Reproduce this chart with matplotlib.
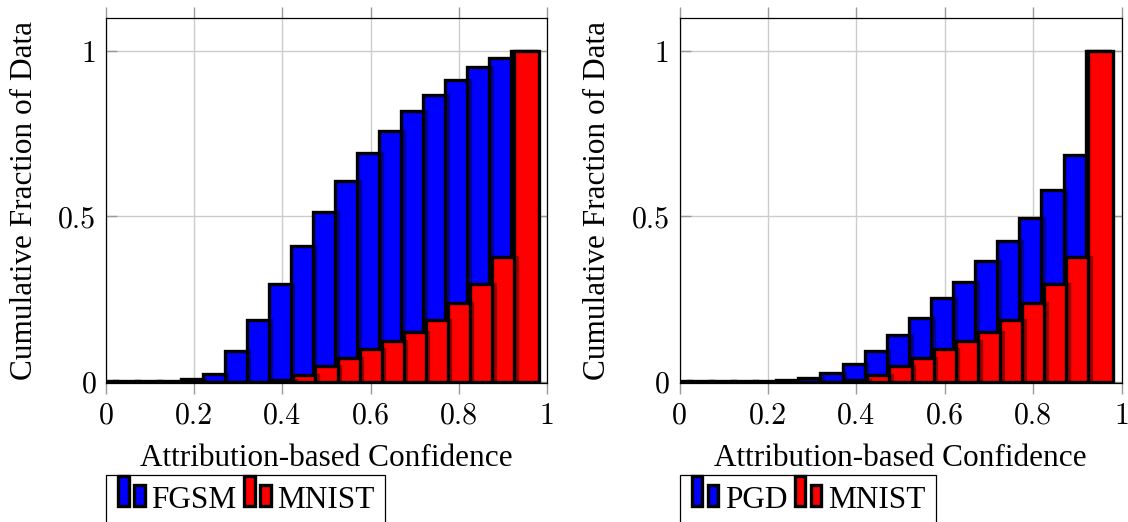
import matplotlib
matplotlib.use('Agg')
import matplotlib.pyplot as plt
import numpy as np
from matplotlib.patches import Rectangle
from matplotlib.legend_handler import HandlerBase

# bin positions (attribution-based confidence)
bins = [0.0, 0.05, 0.10, 0.15, 0.20, 0.25, 0.30, 0.35, 0.40, 0.45,
        0.50, 0.55, 0.60, 0.65, 0.70, 0.75, 0.80, 0.85, 0.90, 0.95]

# cumulative fractions
fgsm = [0.001, 0.001, 0.002, 0.003, 0.008, 0.022, 0.092, 0.187, 0.295, 0.411,
        0.512, 0.607, 0.692, 0.758, 0.818, 0.867, 0.912, 0.951, 0.979, 1.0]
pgd = [0.001, 0.001, 0.001, 0.001, 0.002, 0.004, 0.012, 0.026, 0.053, 0.094,
       0.141, 0.194, 0.252, 0.303, 0.364, 0.427, 0.496, 0.580, 0.686, 1.0]
mnist = [0.0, 0.0, 0.0, 0.0, 0.0, 0.0, 0.0, 0.0, 0.004, 0.020,
         0.048, 0.073, 0.099, 0.124, 0.151, 0.186, 0.238, 0.295, 0.376, 1.0]

xticks = [0, 0.2, 0.4, 0.6, 0.8, 1.0]
xticklabels = ['0', '0.2', '0.4', '0.6', '0.8', '1']
yticks = [0, 0.5, 1.0]
yticklabels = ['0', '0.5', '1']

BLUE = '#0000ff'
RED = '#ff0000'
LW = 2.4
WIDTH = 0.056


class TwoBars(HandlerBase):
    # pgfplots-like ybar legend image: two little bars
    def create_artists(self, legend, orig_handle, xdescent, ydescent,
                       width, height, fontsize, trans):
        fc = orig_handle.get_facecolor()
        w = width * 0.36
        r1 = Rectangle((-xdescent + 0.04 * width, -ydescent + 1.5), w, height * 1.35,
                       facecolor=fc, edgecolor='black', lw=LW, transform=trans)
        r2 = Rectangle((-xdescent + 0.58 * width, -ydescent + 1.5), w, height * 0.95,
                       facecolor=fc, edgecolor='black', lw=LW, transform=trans)
        return [r1, r2]


def bar_series(ax, x, y, color, z):
    # solid fill underneath, then bars with see-through fill so the
    # outline of the previous bar shows faintly (as in pgfplots output)
    ax.bar(x, y, width=WIDTH, color=color, linewidth=0, zorder=z)
    return ax.bar(x, y, width=WIDTH, facecolor=(*matplotlib.colors.to_rgb(color), 0.6),
                  edgecolor='black', linewidth=LW, zorder=z + 0.5)


fig = plt.figure(figsize=(11.28, 5.22), dpi=100)
ax1 = fig.add_axes([106 / 1128, 1 - 383 / 522, 441 / 1128, 365 / 522])
ax2 = fig.add_axes([679.5 / 1128, 1 - 383 / 522, 442 / 1128, 365 / 522])

label_font = {'family': 'Liberation Serif', 'size': 22.5}
tick_font = 'cmr10'

for ax, attack, name in [(ax1, fgsm, 'FGSM'), (ax2, pgd, 'PGD')]:
    x = np.array(bins)
    b = bar_series(ax, x - 0.003, attack, BLUE, 2)
    r = bar_series(ax, x + 0.003, mnist, RED, 3)

    ax.set_xlim(0, 1)
    ax.set_ylim(-0.004, 1.1)
    ax.set_xticks(xticks)
    ax.set_xticklabels(xticklabels, fontfamily=tick_font, fontsize=21.5)
    ax.set_yticks(yticks)
    ax.set_yticklabels(yticklabels, fontfamily=tick_font, fontsize=21.5)
    ax.tick_params(axis='x', direction='out', top=True, bottom=True,
                   length=8, width=1, color='#999999', pad=6)
    ax.tick_params(axis='y', direction='in', left=True, right=True,
                   length=8, width=1, color='#999999', pad=7)
    ax.grid(True, color='#cccccc', linewidth=1, zorder=0)
    ax.set_axisbelow(True)
    for s in ax.spines.values():
        s.set_color('black')
        s.set_linewidth(0.9)
        s.set_zorder(5)

    ax.set_xlabel('Attribution-based Confidence', fontdict=label_font, labelpad=10)
    ax.set_ylabel('Cumulative Fraction of Data', fontdict=label_font, labelpad=14)

    pos = ax.get_position()
    hb = Rectangle((0, 0), 1, 1, facecolor=BLUE)
    hr = Rectangle((0, 0), 1, 1, facecolor=RED)
    leg = ax.legend(handles=[hb, hr], labels=[name, 'MNIST'], ncol=2,
                    loc='upper left', bbox_to_anchor=(pos.x0, 1 - 475 / 522),
                    bbox_transform=fig.transFigure, borderaxespad=0,
                    prop={'family': 'Liberation Serif', 'size': 22.5},
                    handler_map={Rectangle: TwoBars()},
                    handlelength=0.95, handletextpad=0.15, columnspacing=0.2,
                    borderpad=0.35, fancybox=False, framealpha=1,
                    edgecolor='black')
    leg.get_frame().set_linewidth(0.9)

fig.savefig('out.png', dpi=100)
